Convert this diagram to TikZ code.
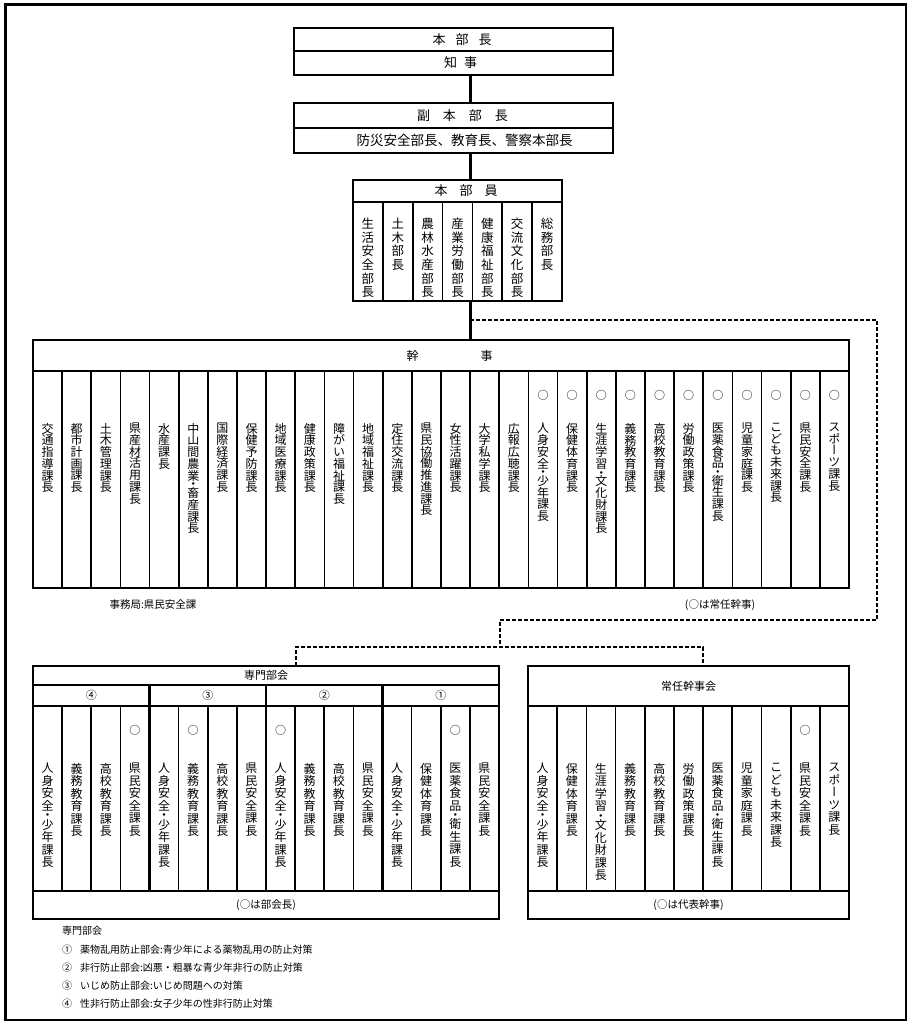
\documentclass[tikz,border=0pt]{standalone}
\usepackage{fontspec}
\setmainfont{Noto Sans CJK JP}
\newfontfamily\jpv[RawFeature=+vert]{Noto Sans CJK JP}
\usetikzlibrary{positioning}

\makeatletter
\def\tate@dot{・}
\def\tate@loop#1{\ifx#1\@nil\else\tate@char{#1}\expandafter\tate@loop\fi}
\def\tate@char#1{\def\tate@c{#1}%
  \ifx\tate@c\tate@dot
    \vskip-.25\baselineskip\hbox to 1em{\hss#1\hss}\vskip-.25\baselineskip
  \else
    \hbox to 1em{\hss#1\hss}%
  \fi}
\newcommand\tate[2][11.7pt]{\edef\tate@list{#2}%
  \vtop{\jpv\baselineskip=#1\relax\lineskiplimit=-\maxdimen
    \expandafter\tate@loop\tate@list\@nil}}
\makeatother

\begin{document}
\begin{tikzpicture}[x=1pt, y=-1pt,
  boxline/.style={line width=2.4pt},
  headbox/.style={draw, boxline, inner sep=0pt, outer sep=0pt, font=\fontsize{13}{13}\selectfont},
  colbox/.style={draw, line width=1.7pt, inner sep=0pt, outer sep=0pt, anchor=north west},
  tatetext/.style={inner sep=0pt, anchor=north, font=\fontsize{12}{12}\selectfont},
  maru/.style={inner sep=0pt, font=\fontsize{11}{11}\selectfont},
  note/.style={inner sep=0pt, font=\fontsize{10}{10}\selectfont},
  solidlink/.style={line width=3pt},
  dashlink/.style={line width=1.8pt, dash pattern=on 4pt off 2pt}
]
\useasboundingbox (0,0) rectangle (911,1024);
\draw[line width=2.6pt] (5.5,4.5) rectangle (906,1020);

% top boxes
\node[headbox, minimum width=319pt, minimum height=23pt] (bucho) at (453.5,39.5) {\hspace{17pt}本\hspace{10pt}部\hspace{10pt}長};
\node[headbox, minimum width=319pt, minimum height=24pt, below=0pt of bucho] (chiji) {\hspace{14pt}知\hspace{7pt}事};
\node[headbox, minimum width=319pt, minimum height=25pt, below=28pt of chiji] (fuku) {\hspace{18pt}副\hspace{13pt}本\hspace{13pt}部\hspace{13pt}長};
\node[headbox, minimum width=319pt, minimum height=25pt, below=0pt of fuku, font=\fontsize{13.5}{13.5}\selectfont] (fukumem) {\hspace{22pt}防災安全部長、教育長、警察本部長};

% honbuin
\node[headbox, minimum width=209pt, minimum height=22pt] (bihead) at (457.5,191) {\hspace{17pt}本\hspace{12pt}部\hspace{12pt}員};
\foreach \nm [count=\i] in {生活安全部長,土木部長,農林水産部長,産業労働部長,健康福祉部長,交流文化部長,総務部長}{
  \node[colbox, minimum width=29.857pt, minimum height=99pt] (bi\i) at ({353+(\i-1)*29.857},202) {};
  \node[tatetext, font=\fontsize{12.5}{12.5}\selectfont, below=16pt of bi\i.north] (bit\i) {\tate[13.6pt]{\nm}};
}
\draw[boxline] (bihead.south west) rectangle (bi7.south east);

% kanji
\node[headbox, minimum width=816pt, minimum height=31pt, font=\fontsize{12}{12}\selectfont] (kjhead) at (441,355.5) {\hspace{17pt}幹\hspace{62pt}事};
\foreach \nm [count=\i] in {交通指導課長,都市計画課長,土木管理課長,県産材活用課長,水産課長,中山間農業・畜産課長,国際経済課長,保健予防課長,地域医療課長,健康政策課長,
  障がい福祉課長,地域福祉課長,定住交流課長,県民協働推進課長,女性活躍課長,大学私学課長,広報広聴課長,人身安全・少年課長,保健体育課長,生涯学習・文化財課長,
  義務教育課長,高校教育課長,労働政策課長,医薬食品・衛生課長,児童家庭課長,こども未来課長,県民安全課長,スポーツ課長}{
  \node[colbox, minimum width=29.143pt, minimum height=217pt] (kj\i) at ({33+(\i-1)*29.143},371) {};
  \node[tatetext, below=52pt of kj\i.north] (kjt\i) {\tate{\nm}};
  \ifnum\i>17 \node[maru, below=19pt of kj\i.north] (kjm\i) {○};\fi
}
\draw[boxline] (kjhead.south west) rectangle (kj28.south east);
\node[note, font=\fontsize{10.5}{10.5}\selectfont] (jimu) at (153,605) {事務局:県民安全課};
\node[note, font=\fontsize{10.5}{10.5}\selectfont] (kjnote) at (720,605) {(○は常任幹事)};

% solid links
\coordinate (spine) at (470,0);
\draw[solidlink] (chiji.south -| spine) -- (fuku.north -| spine);
\draw[solidlink] (fukumem.south -| spine) -- (bihead.north -| spine);
\draw[solidlink] (bi1.south -| spine) -- (kjhead.north -| spine);

% senmon bukai
\node[headbox, minimum width=466pt, minimum height=19pt, font=\fontsize{11}{11}\selectfont] (smhead) at (266,675.5) {専門部会};
\foreach \lb [count=\i] in {④,③,②,①}{
  \node[headbox, minimum width=116.5pt, minimum height=21pt, anchor=north west, font=\fontsize{11}{11}\selectfont] (g\i) at ({33+(\i-1)*116.5},685) {\lb};
}
\foreach \nm/\mk [count=\i] in {人身安全・少年課長/0,義務教育課長/0,高校教育課長/0,県民安全課長/1,
  人身安全・少年課長/0,義務教育課長/1,高校教育課長/0,県民安全課長/0,
  人身安全・少年課長/1,義務教育課長/0,高校教育課長/0,県民安全課長/0,
  人身安全・少年課長/0,保健体育課長/0,医薬食品・衛生課長/1,県民安全課長/0}{
  \node[colbox, minimum width=29.125pt, minimum height=185pt] (sm\i) at ({33+(\i-1)*29.125},706) {};
  \node[tatetext, below=57pt of sm\i.north] (smt\i) {\tate[12.5pt]{\nm}};
  \ifnum\mk=1 \node[maru, below=19pt of sm\i.north] (smm\i) {○};\fi
}
\node[headbox, minimum width=466pt, minimum height=28pt, font=\fontsize{10.5}{10.5}\selectfont] (smfoot) at (266,905) {(○は部会長)};
\draw[boxline] (smhead.north west) rectangle (smfoot.south east);
\foreach \i in {1,2,3} \draw[boxline] (g\i.north east) -- (g\i.north east |- smfoot.north);

% jonin kanjikai
\node[headbox, minimum width=321pt, minimum height=40pt, font=\fontsize{11}{11}\selectfont] (jnhead) at (688.5,686) {常任幹事会};
\foreach \nm/\mk [count=\i] in {人身安全・少年課長/0,保健体育課長/0,生涯学習・文化財課長/0,義務教育課長/0,高校教育課長/0,労働政策課長/0,
  医薬食品・衛生課長/0,児童家庭課長/0,こども未来課長/0,県民安全課長/1,スポーツ課長/0}{
  \node[colbox, minimum width=29.182pt, minimum height=185pt] (jn\i) at ({528+(\i-1)*29.182},706) {};
  \node[tatetext, below=57pt of jn\i.north] (jnt\i) {\tate[12.5pt]{\nm}};
  \ifnum\mk=1 \node[maru, below=19pt of jn\i.north] (jnm\i) {○};\fi
}
\node[headbox, minimum width=321pt, minimum height=28pt, font=\fontsize{10.5}{10.5}\selectfont] (jnfoot) at (688.5,905) {(○は代表幹事)};
\draw[boxline] (jnhead.north west) rectangle (jnfoot.south east);

% dashed links
\coordinate (tap) at (470,320);
\coordinate (turn) at (877,620);
\coordinate (fork) at (500,647);
\coordinate (dropL) at (296,647);
\coordinate (dropR) at (703,647);
\draw[dashlink] (tap) -| (turn) -| (fork);
\draw[dashlink] (dropL |- smhead.north) -- (dropL) -- (dropR) -- (dropR |- jnhead.north);

% legend
\node[note, anchor=west] (lg0) at (62,931) {専門部会};
\node[note, anchor=west] (lg1) at ([yshift=-18.3pt]lg0.west) {①\hspace{8pt}薬物乱用防止部会:青少年による薬物乱用の防止対策};
\node[note, anchor=west] (lg2) at ([yshift=-18.3pt]lg1.west) {②\hspace{8pt}非行防止部会:凶悪・粗暴な青少年非行の防止対策};
\node[note, anchor=west] (lg3) at ([yshift=-18.3pt]lg2.west) {③\hspace{8pt}いじめ防止部会:いじめ問題への対策};
\node[note, anchor=west] (lg4) at ([yshift=-18.3pt]lg3.west) {④\hspace{8pt}性非行防止部会:女子少年の性非行防止対策};
\end{tikzpicture}
\end{document}
